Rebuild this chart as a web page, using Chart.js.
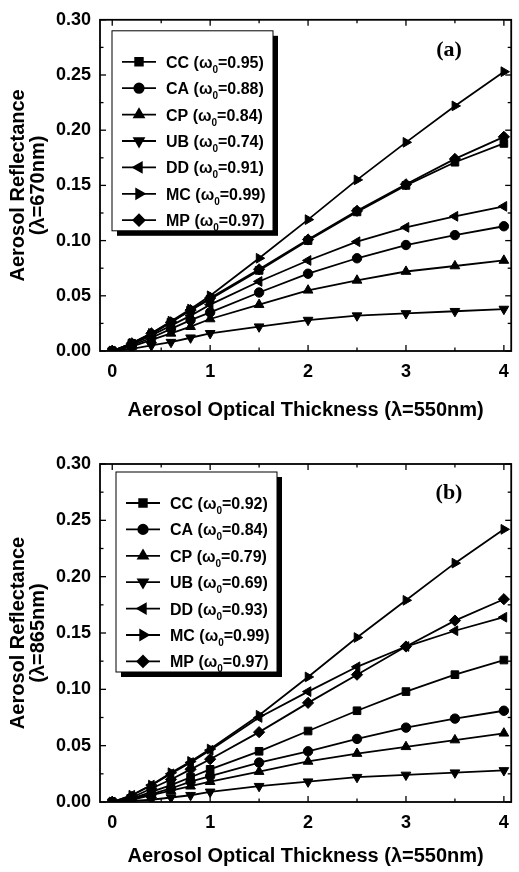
<!DOCTYPE html>
<html>
<head>
<meta charset="utf-8">
<script src="https://cdn.jsdelivr.net/npm/chart.js@4.4.1/dist/chart.umd.min.js"></script>
<style>
  body { margin: 0; background: #fff; width: 519px; height: 872px; overflow: hidden; }
  canvas { display: block; }
</style>
</head>
<body>
<canvas id="panelA" width="519" height="436"></canvas>
<canvas id="panelB" width="519" height="436"></canvas>
<script>
// Aerosol optical thickness at 550 nm (x values)
const aot = [0, 0.2, 0.4, 0.6, 0.8, 1.0, 1.5, 2.0, 2.5, 3.0, 3.5, 4.0];
const aerosolTypes = ['CC', 'CA', 'CP', 'UB', 'DD', 'MC', 'MP'];

// (a) reflectance at 670 nm
const omegaA = ['0.95', '0.88', '0.84', '0.74', '0.91', '0.99', '0.97'];
const ccA = [0, 0.007, 0.015, 0.026, 0.037, 0.047, 0.073, 0.100, 0.126, 0.150, 0.171, 0.188];
const caA = [0, 0.005, 0.012, 0.020, 0.028, 0.035, 0.053, 0.070, 0.084, 0.096, 0.105, 0.113];
const cpA = [0, 0.004, 0.010, 0.016, 0.022, 0.029, 0.042, 0.055, 0.064, 0.072, 0.077, 0.082];
const ubA = [0, 0.002, 0.005, 0.008, 0.012, 0.016, 0.022, 0.028, 0.032, 0.034, 0.036, 0.038];
const ddA = [0, 0.006, 0.014, 0.023, 0.032, 0.042, 0.063, 0.082, 0.099, 0.112, 0.122, 0.131];
const mcA = [0, 0.007, 0.016, 0.027, 0.038, 0.050, 0.084, 0.119, 0.155, 0.189, 0.222, 0.253];
const mpA = [0, 0.007, 0.016, 0.026, 0.037, 0.048, 0.074, 0.101, 0.127, 0.151, 0.174, 0.194];

// (b) reflectance at 865 nm
const omegaB = ['0.92', '0.84', '0.79', '0.69', '0.93', '0.99', '0.97'];
const ccB = [0, 0.003, 0.009, 0.015, 0.022, 0.029, 0.045, 0.063, 0.081, 0.098, 0.113, 0.126];
const caB = [0, 0.003, 0.007, 0.012, 0.018, 0.023, 0.035, 0.045, 0.056, 0.066, 0.074, 0.081];
const cpB = [0, 0.002, 0.006, 0.010, 0.014, 0.018, 0.027, 0.036, 0.043, 0.049, 0.055, 0.061];
const ubB = [0, 0.001, 0.002, 0.004, 0.006, 0.009, 0.014, 0.018, 0.022, 0.024, 0.026, 0.028];
const ddB = [0, 0.006, 0.015, 0.025, 0.035, 0.046, 0.075, 0.098, 0.120, 0.138, 0.152, 0.164];
const mcB = [0, 0.006, 0.015, 0.026, 0.036, 0.047, 0.077, 0.111, 0.146, 0.179, 0.212, 0.242];
const mpB = [0, 0.004, 0.012, 0.020, 0.029, 0.038, 0.062, 0.088, 0.113, 0.138, 0.161, 0.180];

const xTicks = [0, 1, 2, 3, 4];
const yTicks = [0, 0.05, 0.10, 0.15, 0.20, 0.25, 0.30];

// marker per aerosol type
const markers = {
  CC: { style: 'rect', rot: 0, r: 5.4 },
  CA: { style: 'circle', rot: 0, r: 4.7 },
  CP: { style: 'triangle', rot: 0, r: 5.6 },
  UB: { style: 'triangle', rot: 180, r: 5.6 },
  DD: { style: 'triangle', rot: -90, r: 5.6 },
  MC: { style: 'triangle', rot: 90, r: 5.6 },
  MP: { style: 'rectRot', rot: 0, r: 5.6 }
};

const boldFont = "'Liberation Sans', Arial, sans-serif";

function line(ctx, x1, y1, x2, y2) {
  ctx.beginPath(); ctx.moveTo(x1, y1); ctx.lineTo(x2, y2); ctx.stroke();
}

// box, inward ticks, legend and panel tag
const framePlugin = {
  id: 'frame',
  afterDraw(chart, args, opts) {
    const { ctx, chartArea: a, scales: { x, y } } = chart;
    ctx.save();
    ctx.strokeStyle = '#000';
    ctx.lineWidth = 1.8;
    ctx.strokeRect(a.left, a.top, a.right - a.left, a.bottom - a.top);

    ctx.lineWidth = 1.3;
    for (let i = 0; i <= 8; i++) {
      const v = i * 0.5;
      const px = x.getPixelForValue(v);
      const len = i % 2 === 0 ? 6 : 3.5;
      line(ctx, px, a.bottom, px, a.bottom - len);
      line(ctx, px, a.top, px, a.top + len);
    }
    for (let i = 0; i <= 12; i++) {
      const v = i * 0.025;
      const py = y.getPixelForValue(v);
      const len = i % 2 === 0 ? 6 : 3.5;
      line(ctx, a.left, py, a.left + len, py);
      line(ctx, a.right, py, a.right - len, py);
    }

    // panel tag
    ctx.fillStyle = '#000';
    ctx.font = "bold 22px 'Liberation Serif', 'Times New Roman', serif";
    ctx.textAlign = 'center';
    ctx.textBaseline = 'middle';
    ctx.fillText(opts.tag, 449, a.top + opts.tagDy);

    // legend box with shadow
    const lx = a.left + opts.lx, ly = a.top + opts.ly, lw = 161, lh = 200;
    ctx.fillStyle = '#000';
    ctx.fillRect(lx + 5, ly + 5, lw, lh);
    ctx.fillStyle = '#fff';
    ctx.fillRect(lx, ly, lw, lh);
    ctx.lineWidth = 1;
    ctx.strokeRect(lx, ly, lw, lh);

    chart.data.datasets.forEach((ds, i) => {
      const ry = ly + 31 + i * 26.4;
      ctx.strokeStyle = '#000';
      ctx.lineWidth = 1.8;
      line(ctx, lx + 10, ry, lx + 44, ry);
      const m = markers[ds.label];
      Chart.helpers.drawPoint(ctx, { pointStyle: m.style, rotation: m.rot, radius: m.r, borderWidth: 1 }, lx + 27, ry);
      ctx.fillStyle = '#000';
      ctx.fill();
      // text with subscript
      ctx.textAlign = 'left';
      ctx.textBaseline = 'alphabetic';
      ctx.font = 'bold 16px ' + boldFont;
      let tx = lx + 54;
      const base = ry + 6;
      const part1 = ds.label + ' (\u03c9';
      ctx.fillText(part1, tx, base);
      tx += ctx.measureText(part1).width;
      ctx.font = 'bold 10px ' + boldFont;
      ctx.fillText('0', tx, base + 5);
      tx += ctx.measureText('0').width;
      ctx.font = 'bold 16px ' + boldFont;
      ctx.fillText('=' + opts.omegas[i] + ')', tx, base);
    });
    ctx.restore();
  }
};

function makePanel(canvasId, series, omegas, yTitle, tag, opts) {
  const datasets = aerosolTypes.map((t, i) => ({
    label: t,
    data: aot.map((v, k) => ({ x: v, y: series[i][k] })),
    borderColor: '#000',
    backgroundColor: '#000',
    borderWidth: 1.8,
    pointStyle: markers[t].style,
    rotation: markers[t].rot,
    pointRadius: markers[t].r,
    pointBorderWidth: 1,
    tension: 0
  }));

  return new Chart(document.getElementById(canvasId), {
    type: 'line',
    data: { datasets },
    plugins: [framePlugin],
    options: {
      responsive: false,
      animation: false,
      layout: { padding: { left: 0, right: 2, top: opts.top, bottom: opts.bottom } },
      plugins: {
        legend: { display: false },
        tooltip: { enabled: false },
        frame: { tag, omegas, tagDy: opts.tagDy, lx: opts.lx, ly: opts.ly }
      },
      scales: {
        x: {
          type: 'linear',
          min: -0.125,
          max: 4.075,
          afterBuildTicks: s => { s.ticks = xTicks.map(v => ({ value: v })); },
          afterFit: s => { s.height = opts.xHeight; },
          grid: { display: false, drawTicks: false },
          border: { display: false },
          ticks: {
            padding: 10,
            maxRotation: 0,
            autoSkip: false,
            color: '#000',
            font: { family: boldFont, size: 18, weight: 'bold' },
            callback: v => String(v)
          },
          title: {
            display: true,
            text: 'Aerosol Optical Thickness (\u03bb=550nm)',
            color: '#000',
            padding: { top: 0, bottom: 0 },
            font: { family: boldFont, size: 20, weight: 'bold', lineHeight: 1.0 }
          }
        },
        y: {
          min: 0,
          max: 0.30,
          afterBuildTicks: s => { s.ticks = yTicks.map(v => ({ value: v })); },
          afterFit: s => { s.width = 100; },
          grid: { display: false, drawTicks: false },
          border: { display: false },
          ticks: {
            padding: 9,
            color: '#000',
            font: { family: boldFont, size: 18, weight: 'bold' },
            callback: v => v.toFixed(2)
          },
          title: {
            display: true,
            text: yTitle,
            color: '#000',
            padding: { top: 8, bottom: 0 },
            font: { family: boldFont, size: 20, weight: 'bold', lineHeight: 1.0 }
          }
        }
      }
    }
  });
}

makePanel('panelA', [ccA, caA, cpA, ubA, ddA, mcA, mpA], omegaA,
  ['Aerosol Reflectance', '(\u03bb=670nm)'], '(a)',
  { top: 12, bottom: 16, xHeight: 69, tagDy: 31, lx: 12, ly: 11 });

makePanel('panelB', [ccB, caB, cpB, ubB, ddB, mcB, mpB], omegaB,
  ['Aerosol Reflectance', '(\u03bb=865nm)'], '(b)',
  { top: 28, bottom: 6, xHeight: 64, tagDy: 29, lx: 16, ly: 8 });
</script>
</body>
</html>
